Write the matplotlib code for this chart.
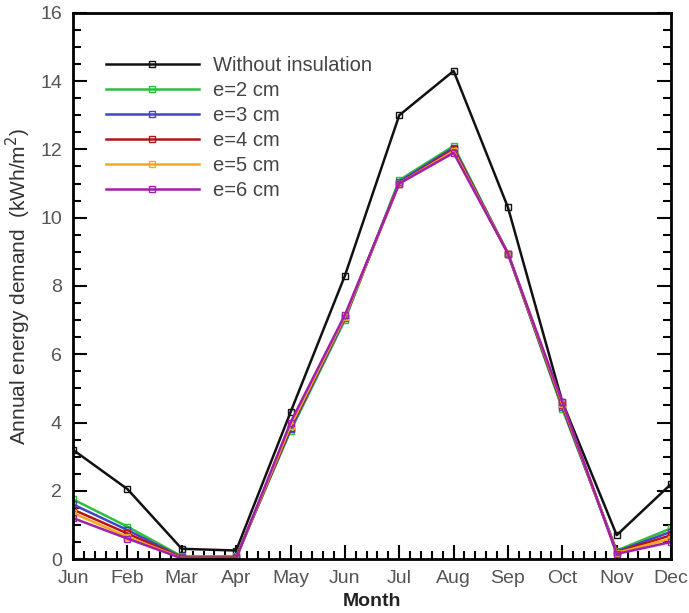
import matplotlib
matplotlib.use("Agg")
import matplotlib.pyplot as plt
from matplotlib.ticker import MultipleLocator

plt.rcParams["font.family"] = ["Liberation Sans", "DejaVu Sans"]

months = ["Jun", "Feb", "Mar", "Apr", "May", "Jun", "Jul", "Aug", "Sep", "Oct", "Nov", "Dec"]

no_insulation = [3.2, 2.05, 0.3, 0.25, 4.3, 8.3, 13.0, 14.3, 10.3, 4.6, 0.7, 2.2]
e2 = [1.75, 0.95, 0.08, 0.08, 3.75, 7.0, 11.1, 12.1, 8.95, 4.4, 0.25, 0.9]
e3 = [1.6, 0.85, 0.05, 0.05, 3.8, 7.05, 11.05, 12.05, 8.95, 4.45, 0.22, 0.8]
e4 = [1.45, 0.75, 0.04, 0.04, 3.85, 7.1, 11.0, 12.0, 8.95, 4.5, 0.2, 0.7]
e5 = [1.35, 0.65, 0.03, 0.03, 3.9, 7.1, 11.0, 11.95, 8.95, 4.55, 0.18, 0.6]
e6 = [1.2, 0.6, 0.02, 0.02, 4.0, 7.15, 11.0, 11.9, 8.95, 4.6, 0.15, 0.5]

series = [
    ("Without insulation", no_insulation, "#111111"),
    ("e=2 cm", e2, "#2dbf3a"),
    ("e=3 cm", e3, "#4444c8"),
    ("e=4 cm", e4, "#b41414"),
    ("e=5 cm", e5, "#f5a623"),
    ("e=6 cm", e6, "#a020a8"),
]

fig = plt.figure(figsize=(6.89, 6.13), dpi=100)
ax = fig.add_axes([0.106, 0.088, 0.868, 0.891])

x = list(range(len(months)))
for label, vals, color in series:
    ax.plot(x, vals, color=color, lw=1.8, marker="s", ms=4,
            mfc="none", mec=color, mew=1.0, label=label)

ax.set_xlim(0, 11)
ax.set_ylim(0, 16)
ax.set_xticks(x)
ax.set_xticklabels(months)
ax.xaxis.set_minor_locator(MultipleLocator(0.2))
ax.yaxis.set_major_locator(MultipleLocator(2))
ax.yaxis.set_minor_locator(MultipleLocator(0.5))

ax.tick_params(which="both", direction="in", top=False, right=True,
               labelsize=14, labelcolor="#555555", width=1.5)
ax.tick_params(which="major", length=10, pad=8)
ax.tick_params(which="minor", length=5.5)
for s in ax.spines.values():
    s.set_linewidth(2)

ax.set_xlabel("Month", fontsize=14, fontweight="bold", color="#222222", labelpad=4)
ax.set_ylabel("Annual energy demand  (kWh/m$^2$)", fontsize=15, color="#333333", labelpad=5)

ax.legend(loc="upper left", bbox_to_anchor=(0.025, 0.955), frameon=False,
          fontsize=14.5, handlelength=4.6, handletextpad=0.7,
          labelspacing=0.3, labelcolor="#444444")

fig.savefig("out.png", dpi=100)
